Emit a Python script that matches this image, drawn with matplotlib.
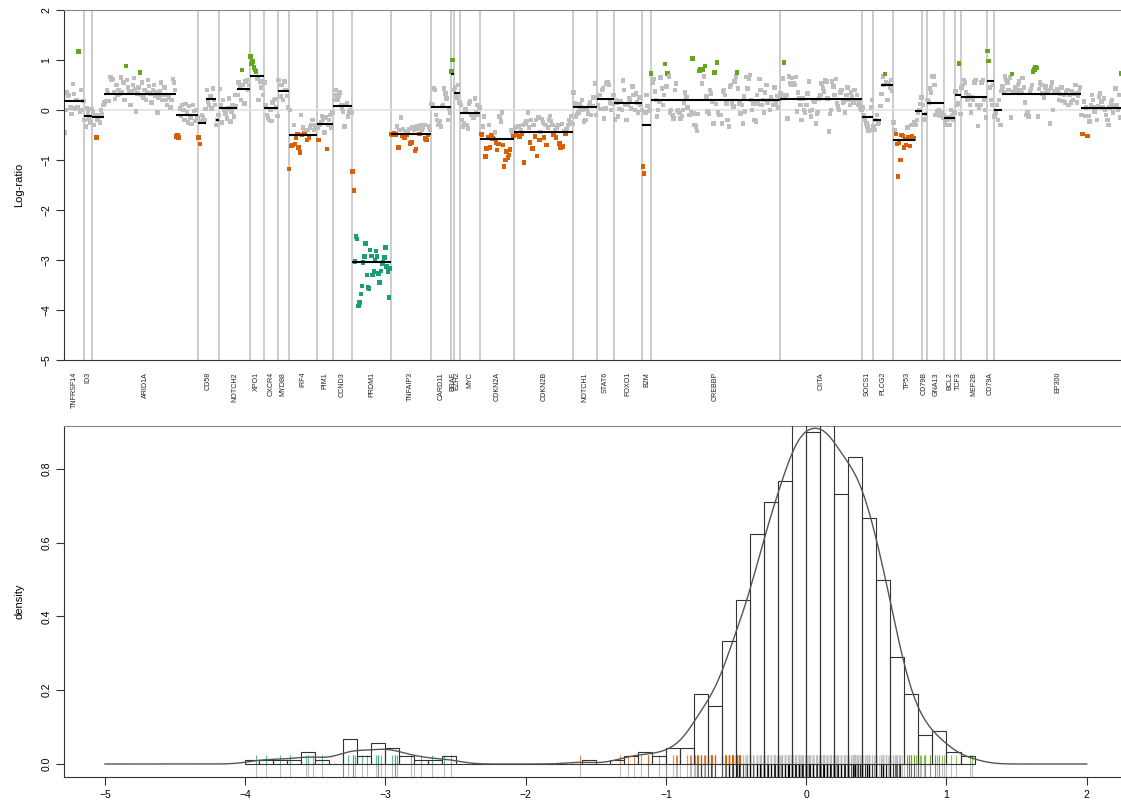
import matplotlib
matplotlib.use("Agg")
import matplotlib.pyplot as plt
import matplotlib.transforms as mtransforms
import numpy as np

plt.rcParams.update({
    "font.family": ["Liberation Sans", "DejaVu Sans"],
    "axes.linewidth": 0.8,
})

# ------------------------------------------------------------------ data
# one entry per segment: gene it lies in, segment mean, probe log-ratios
seg_gene = ["TNFRSF14", "ID3", "ARID1A", "ARID1A", "ARID1A", "CD58", "CD58",
            "CD58", "NOTCH2", "NOTCH2", "XPO1", "CXCR4", "MYD88", "IRF4",
            "PIM1", "CCND3", "PRDM1", "TNFAIP3", "CARD11", "BRAF", "EZH2",
            "MYC", "CDKN2A", "CDKN2B", "NOTCH1", "STAT6", "FOXO1", "B2M",
            "CREBBP", "CIITA", "SOCS1", "PLCG2", "PLCG2", "TP53", "TP53",
            "CD79B", "GNA13", "BCL2", "TCF3", "MEF2B", "CD79A", "EP300",
            "EP300", "EP300"]

seg_mean = [0.17, -0.12, -0.15, 0.32, -0.11, -0.27, 0.21, -0.20, 0.03, 0.41,
            0.67, 0.04, 0.37, -0.50, -0.28, 0.07, -3.05, -0.48, 0.05, 0.72,
            0.33, -0.07, -0.58, -0.44, 0.05, 0.21, 0.13, -0.30, 0.20, 0.22,
            -0.15, -0.21, 0.49, -0.60, -0.03, -0.09, 0.13, -0.17, 0.29, 0.25,
            0.57, 0.00, 0.32, 0.03]

seg_values = [
    # TNFRSF14
    [-0.45, 0.0, 0.35, 0.28, 0.3, 0.05, -0.08, 0.52, 0.32, 0.03, 0.2, 0.05,
     1.17, -0.03, 0.4, 0.0, 0.18],
    # ID3
    [-0.2, -0.33, 0.03, -0.05, -0.17, -0.25, 0.02],
    # ARID1A
    [-0.05, -0.3, -0.1, -0.55, -0.2, -0.1, -0.25, 0.0, -0.08, 0.1],
    [0.15, 0.18, 0.4, 0.34, 0.18, 0.66, 0.6, 0.62, 0.35, 0.22,
     0.5, 0.3, 0.4, 0.32, 0.65, 0.35, 0.55, 0.2, 0.88, 0.6,
     0.45, 0.36, 0.1, 0.38, 0.5, 0.64, 0.42, -0.03, 0.33, 0.45,
     0.75, 0.3, 0.55, 0.25, 0.4, 0.2, 0.35, 0.6, 0.48, 0.33,
     0.15, 0.4, 0.5, 0.28, 0.35, -0.05, 0.25, 0.38, 0.55, 0.2,
     0.3, 0.45, 0.2, 0.1, 0.3, 0.25, 0.05, 0.2, 0.62, 0.55, 0.4],
    [-0.53, -0.5, -0.55, 0.03, -0.12, 0.1, 0.0, -0.2, 0.12, -0.05, -0.25,
     0.08, -0.15, -0.28, 0.1, -0.02, -0.22, 0.0, -0.15],
    # CD58
    [-0.55, -0.68, -0.22, -0.1, -0.15, -0.2, 0.02],
    [0.4, 0.17, 0.1, 0.27, 0.03, 0.43, 0.2, 0.1],
    [-0.3, -0.2, -0.1],
    # NOTCH2
    [0.42, 0.1, -0.25, 0.2, 0.0, -0.07, -0.17, 0.03, 0.23, -0.23, -0.03, 0.1,
     -0.13, 0.3, 0.07],
    [0.3, 0.55, 0.45, 0.2, 0.8, 0.5, 0.13, 0.57, 0.6, 0.4, 0.5],
    # XPO1
    [1.07, 0.92, 0.97, 0.85, 0.8, 0.77, 0.63, 0.2, 0.57, 0.45, 0.58, 0.3],
    # CXCR4
    [0.55, 0.1, -0.1, -0.15, -0.2, 0.0, -0.22, 0.15, 0.2, 0.22, 0.05, -0.12],
    # MYD88
    [0.6, 0.5, 0.27, 0.5, 0.2, 0.57, 0.4, 0.28, 0.05],
    # IRF4
    [-1.18, 0.0, -0.72, -0.7, -0.3, -0.68, -0.55, -0.48, -0.75, -0.85, -0.1,
     -0.5, -0.35, -0.47, -0.4, -0.6, -0.4, -0.55, -0.35, -0.3, -0.2, -0.4,
     -0.35, -0.3],
    # PIM1
    [-0.35, -0.6, -0.3, -0.25, -0.12, -0.2, -0.45, -0.15, -0.78, -0.3, -0.2,
     -0.1, -0.35, -0.05],
    # CCND3
    [0.2, 0.3, 0.4, 0.21, 0.28, 0.35, 0.1, 0.03, -0.03, -0.33, 0.1, 0.13,
     -0.13, -0.05, 0.0, -0.05],
    # PRDM1
    [-1.23, -1.61, -3.03, -2.53, -2.58, -3.92, -3.85, -3.68, -3.52, -3.05,
     -2.93, -2.67, -3.3, -3.55, -3.57, -2.8, -2.92, -3.3, -3.23, -3.0,
     -2.82, -2.93, -3.27, -3.45, -3.22, -3.07, -3.05, -2.95, -2.75, -3.13,
     -3.23, -3.75, -3.17],
    # TNFAIP3
    [-0.48, -0.49, -0.47, -0.49, -0.49, -0.33, -0.75, -0.4, -0.15, -0.52,
     -0.38, -0.55, -0.42, -0.5, -0.42, -0.38, -0.67, -0.65, -0.35, -0.4,
     -0.82, -0.78, -0.32, -0.38, -0.48, -0.3, -0.4, -0.35, -0.3, -0.57,
     -0.6, -0.5, -0.33, -0.4],
    # CARD11
    [0.12, 0.1, 0.43, 0.4, -0.1, -0.2, -0.3, -0.22, -0.33, 0.08, 0.1, 0.43,
     0.33, 0.23, -0.2, 0.02, -0.05],
    # BRAF
    [0.77, 1.0, 0.4],
    # EZH2
    [0.45, 0.3, 0.25, 0.5, 0.15],
    # MYC
    [0.1, -0.2, -0.33, -0.27, 0.01, -0.3, -0.37, 0.13, 0.17, -0.1, -0.1,
     -0.15, 0.23, -0.05, 0.1, -0.1, 0.05],
    # CDKN2A
    [-0.48, -0.49, -0.33, -0.13, -0.93, -0.77, -0.55, -0.3, -0.75, -0.5,
     -0.57, -0.58, -0.45, -0.65, -0.8, -0.68, -0.13, -0.23, -0.05, -0.7,
     -1.13, -1.0, -0.83, -0.95, -0.9, -0.79, -0.4, -0.45, -0.52],
    # CDKN2B
    [-0.35, -0.48, -0.49, -0.33, -0.53, -0.4, -0.47, -0.3, -1.05, -0.27,
     -0.22, -0.05, -0.35, -0.65, -0.2, -0.77, -0.3, -0.53, -0.2, -0.92,
     -0.15, -0.6, -0.44, -0.18, -0.25, -0.55, -0.3, -0.7, -0.35, -0.2,
     -0.12, -0.22, -0.3, -0.5, -0.4, -0.55, -0.35, -0.3, -0.67, -0.75,
     -0.28, -0.73, -0.42, -0.48, -0.38, -0.3, -0.2, -0.25, -0.12, -0.28],
    # NOTCH1
    [0.35, 0.13, -0.13, -0.08, -0.05, 0.12, 0.05, 0.2, 0.0, -0.23, -0.2,
     0.02, -0.07, 0.1, 0.15, -0.1, 0.08, 0.25, 0.53, -0.1],
    # STAT6
    [0.25, 0.1, 0.3, 0.02, 0.4, 0.43, -0.17, 0.03, 0.53, 0.55, 0.5, 0.15,
     0.0, 0.12, 0.3],
    # FOXO1
    [-0.19, 0.2, 0.15, -0.13, 0.02, 0.17, 0.0, 0.59, 0.4, 0.1, -0.2, 0.1,
     0.23, 0.2, 0.03, 0.47, 0.3, 0.0, 0.33, 0.15, -0.05, 0.25, 0.1, 0.0],
    # B2M
    [-1.13, -1.27, -0.05, 0.3, 0.08, -0.02, 0.0],
    # CREBBP
    [0.73, 0.55, 0.62, 0.37, 0.2, -0.13, 0.0, 0.17, 0.65, 0.43,
     0.1, 0.3, 0.92, 0.47, 0.73, 0.67, -0.05, 0.0, -0.1, -0.17,
     0.4, 0.53, -0.02, 0.0, -0.05, -0.17, -0.12, 0.0, 0.15, 0.35,
     0.25, 0.05, -0.1,
     -0.1, -0.05, 1.03, -0.07, -0.3, -0.33, -0.42, -0.08, 0.78, 0.82,
     0.53, 0.8, 0.67, 0.88, 0.27, -0.03, -0.07, 0.4, 0.33, 0.17,
     -0.27, 0.75, 0.12, 0.95, -0.05, -0.1, -0.1, -0.27, 0.37, 0.4,
     0.3, 0.13, -0.2, -0.33, 0.47, 0.5, 0.13, 0.07,
     0.57, 0.67, 0.75, 0.43, 0.13, -0.07, 0.1, -0.27, 0.27, -0.03,
     0.66, 0.43, 0.63, 0.7, 0.2, 0.0, 0.13, -0.2, -0.23, 0.3,
     0.13, 0.62, 0.4, 0.1, 0.2, -0.05, 0.35, 0.5, 0.15, 0.2,
     0.0, 0.25, 0.2, 0.1, 0.45, 0.15, 0.28, 0.05, 0.22],
    # CIITA
    [0.33, 0.3, 0.63, 0.95, 0.25, 0.3, -0.17, 0.67, 0.53, 0.5,
     0.64, 0.53, 0.5, 0.66, -0.03, 0.35, 0.23, 0.1, -0.2, 0.23,
     0.0, -0.05, 0.1, 0.33, 0.57, -0.02, -0.13, 0.0, 0.2, 0.17,
     -0.27, -0.07, -0.04, 0.23, 0.3, 0.53, 0.43, 0.37, 0.6, 0.57,
     0.23, -0.43, -0.08, 0.0, 0.57, 0.47, 0.3, 0.62, 0.13, 0.07,
     0.0, 0.35, 0.4, 0.15, 0.17, -0.05, 0.3, 0.45, 0.2, 0.1,
     0.35, 0.25, 0.15, 0.4, 0.2, 0.3, 0.1, 0.15, 0.05, 0.0],
    # SOCS1
    [0.05, -0.1, -0.2, -0.27, -0.33, -0.42, -0.4, 0.05, 0.2],
    # PLCG2
    [-0.33, -0.4, -0.2, -0.1, -0.27, -0.25, 0.08],
    [0.32, 0.67, 0.5, 0.72, 0.55, 0.2, 0.53, 0.45, 0.6, 0.38],
    # TP53
    [-0.25, -0.4, -0.48, -0.68, -1.33, -0.65, -1.0, -0.5, -0.52, -0.75,
     -0.58, -0.7, -0.35, -0.55, -0.72, -0.3, -0.52, -0.57, -0.25],
    [-0.3, -0.2, -0.05, 0.0, 0.12, 0.25],
    # CD79B
    [0.1, -0.2, -0.18, -0.08],
    # GNA13
    [0.2, 0.15, 0.43, 0.35, 0.68, 0.67, 0.5, -0.1, -0.03, -0.1, 0.0, -0.12,
     -0.05, -0.15, -0.1],
    # BCL2
    [-0.25, -0.3, -0.2, -0.15, -0.3, 0.0, -0.1, -0.2, -0.05],
    # TCF3
    [0.37, 0.1, 0.13, 0.93, -0.08],
    # MEF2B
    [0.45, 0.5, 0.6, 0.55, 0.35, 0.2, 0.3, 0.1, -0.05, 0.25, 0.2, 0.55,
     0.6, 0.1, -0.32, 0.05, 0.1, 0.55, 0.6, 0.2, 0.0, -0.15],
    # CD79A
    [1.18, 0.98, 0.45, 0.2, 0.1, 0.5],
    # EP300
    [-0.13, -0.05, 0.1, -0.2, 0.2, -0.3, 0.38],
    [0.47, 0.35, 0.67, 0.6, 0.55, 0.4, 0.65, -0.15, 0.72, 0.36,
     0.38, 0.45, 0.35, 0.5, 0.57, 0.4, 0.34, 0.64, 0.45, 0.15,
     -0.1, -0.05, -0.13, 0.37, 0.42, 0.5, 0.77, 0.81, 0.85, 0.84,
     -0.13, 0.42, 0.55, 0.5, 0.33, 0.25, 0.45, 0.48, 0.35, 0.4,
     -0.27, 0.45, 0.55, 0.0, 0.35, 0.38, 0.42, 0.35, 0.2, 0.32,
     0.45, 0.18, 0.3, 0.15, 0.35, 0.4, 0.1, 0.3, 0.15, 0.38,
     0.2, 0.33, 0.5, 0.15, 0.28, 0.35, 0.45],
    [-0.1, -0.48, 0.17, -0.12, 0.05, -0.52, -0.12, -0.23, 0.1, 0.3,
     0.2, -0.03, 0.05, -0.2, 0.08, 0.27, 0.33, 0.17, 0.05, 0.23,
     0.0, -0.1, -0.2, -0.3, 0.05, 0.15, 0.2, -0.05, 0.1, 0.43,
     0.1, 0.0, 0.3, -0.15, 0.73],
]

# histogram of all log-ratios, density per 0.1-wide bin, bins from -4.0
bin_density = [0.011, 0.011, 0.011, 0.011, 0.033, 0.011, 0.0, 0.067, 0.022, 0.056,
               0.044, 0.022, 0.011, 0.011, 0.022, 0.0, 0.0, 0.0, 0.0, 0.0,
               0.0, 0.0, 0.0, 0.0, 0.011, 0.0, 0.011, 0.022, 0.033, 0.022,
               0.044, 0.044, 0.189, 0.156, 0.333, 0.444, 0.622, 0.711, 0.767, 0.978,
               0.900, 0.956, 0.733, 0.833, 0.667, 0.500, 0.289, 0.189, 0.078, 0.089,
               0.033, 0.022]
bin_start = -4.0
bin_width = 0.1

GREY = "#BEBEBE"
LOSS = "#D95F02"
GAIN = "#66A61E"
DEEP = "#1B9E77"


def call_colour(v):
    if v < -2.0:
        return DEEP
    if v < -0.46:
        return LOSS
    if v > 0.7:
        return GAIN
    return GREY


def nrd0(x):
    """Silverman's rule of thumb, as R's bw.nrd0."""
    q75, q25 = np.percentile(x, [75, 25])
    lo = min(np.std(x, ddof=1), (q75 - q25) / 1.34)
    return 0.9 * lo * len(x) ** -0.2


# ------------------------------------------------------------- layout
lens = np.array([len(v) for v in seg_values])
ends = np.cumsum(lens)
starts = ends - lens
vals = np.concatenate([np.asarray(v, float) for v in seg_values])
pos = np.arange(1, len(vals) + 1)
cols = [call_colour(v) for v in vals]
n = len(vals)

# gene spans from runs of identical names
genes, g_start, g_end = [], [], []
for g, s, e in zip(seg_gene, starts, ends):
    if genes and genes[-1] == g:
        g_end[-1] = e
    else:
        genes.append(g)
        g_start.append(s)
        g_end.append(e)

W, H = 1121, 805
fig = plt.figure(figsize=(W / 100, H / 100), dpi=100)
ax = fig.add_axes([64 / W, 1 - 360 / H, (1122 - 64) / W, 350 / H])
axh = fig.add_axes([64 / W, 1 - 777 / H, (1126 - 64) / W, 351 / H])

# --- top: probe log-ratios with segments
for e in g_end[:-1]:
    ax.axvline(e + 0.5, color="#CCCCCC", lw=1.4, zorder=1)
ax.axhline(0, color="#E2E2E2", lw=1.2, zorder=1)
ax.scatter(pos, vals, c=cols, marker="s", s=10, linewidths=0, zorder=2)
ax.hlines(seg_mean, starts + 0.5, ends + 0.5, color="black", lw=1.5, zorder=3)

ax.set_xlim(0.5, n + 0.5)
ax.set_ylim(-5, 2)
ax.set_xticks([])
ax.set_yticks(range(-5, 3))
ax.tick_params(axis="y", length=6, width=0.8, pad=3, labelsize=7.5,
               color="#333333")
for t in ax.get_yticklabels():
    t.set_rotation(90)
    t.set_va("center")
ax.set_ylabel("Log-ratio", fontsize=8)
ax.yaxis.set_label_coords(-40 / 1058, 0.5)
for side in ("left", "bottom"):
    ax.spines[side].set_color("#333333")
ax.spines["top"].set_color("#888888")
ax.spines["right"].set_visible(False)

lab_tr = mtransforms.blended_transform_factory(ax.transData, ax.transAxes)
for g, s, e in zip(genes, g_start, g_end):
    ax.text((s + e) / 2 + 0.5, -0.034, g, transform=lab_tr, rotation=90,
            ha="center", va="top", fontsize=5.1, color="#222222")

# --- bottom: density of log-ratios
edges = bin_start + bin_width * np.arange(len(bin_density))
axh.bar(edges, bin_density, width=bin_width, align="edge", fill=False,
        edgecolor="#333333", linewidth=0.8, zorder=3)

grid = np.linspace(-5, 2, 600)
bw = nrd0(vals)
dens = np.exp(-0.5 * ((grid[:, None] - vals[None, :]) / bw) ** 2).sum(1)
dens /= n * bw * np.sqrt(2 * np.pi)
axh.plot(grid, dens, color="#555555", lw=1.0, zorder=4)

axh.vlines(vals, 0, 0.024, colors=cols, lw=0.8, alpha=0.7, zorder=2)
axh.vlines(vals, -0.036, 0, colors="black", lw=0.8, alpha=0.25, zorder=2)

axh.set_xlim(-5.292, 2.28)
axh.set_ylim(-0.0352, 0.916)
axh.set_xticks(range(-5, 3))
axh.set_yticks([0.0, 0.2, 0.4, 0.6, 0.8])
axh.set_yticklabels(["0.0", "0.2", "0.4", "0.6", "0.8"])
axh.tick_params(length=6, width=0.8, pad=3, labelsize=7.5, color="#333333")
for t in axh.get_yticklabels():
    t.set_rotation(90)
    t.set_va("center")
axh.set_ylabel("density", fontsize=8)
axh.yaxis.set_label_coords(-40 / 1062, 0.5)
for side in ("left", "bottom"):
    axh.spines[side].set_color("#333333")
axh.spines["top"].set_color("#888888")
axh.spines["right"].set_visible(False)

fig.savefig("out.png", dpi=100)
